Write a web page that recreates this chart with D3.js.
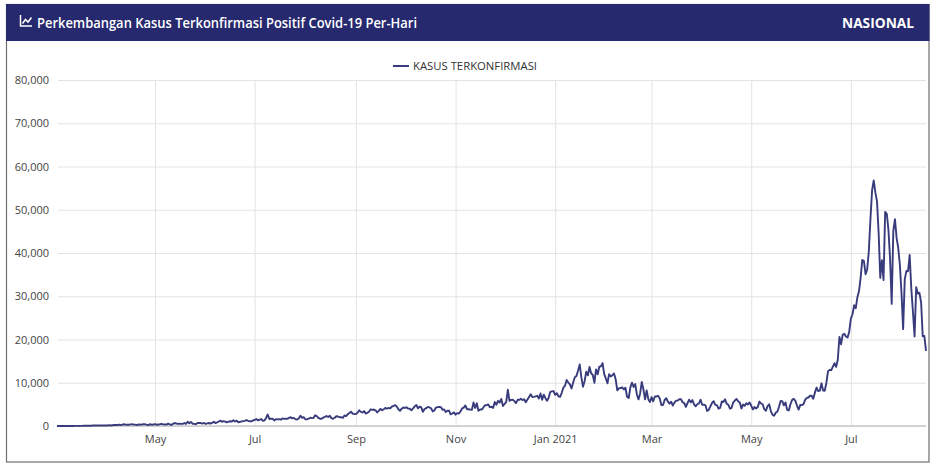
<!DOCTYPE html>
<html>
<head>
<meta charset="utf-8">
<script src="https://cdn.jsdelivr.net/npm/d3@7/dist/d3.min.js"></script>
<style>
  html, body { margin: 0; padding: 0; background: #fff; }
  svg { display: block; }
</style>
</head>
<body>
<svg id="chart" width="934" height="472"></svg>
<script>
// ---- DATA ----
const titleText = "Perkembangan Kasus Terkonfirmasi Positif Covid-19 Per-Hari";
const regionText = "NASIONAL";
const seriesName = "KASUS TERKONFIRMASI";
const startDate = "2020-03-02";
const endDate = "2021-08-16";

// daily new confirmed cases, 2 Mar 2020 .. 31 Dec 2020 (one line per month)
const cases2020 = [
  2,0,0,2,0,0,2,13,0,8,7,35,27,21,17,38,55,82,60,81,64,65,106,105,103,153,109,130,129,114,
  149,113,196,106,181,218,247,218,337,219,330,399,316,282,297,380,407,325,327,185,375,283,357,436,396,275,214,415,260,347,
  433,292,349,395,484,367,338,336,533,387,233,484,689,568,490,529,496,486,693,486,973,634,949,526,479,415,686,687,678,557,700,
  467,609,684,585,703,993,672,847,1043,1241,979,1111,1014,857,1017,1106,1031,1331,1041,1226,862,954,1051,1113,1178,1385,1198,1082,1082,1293,
  1385,1624,1301,1447,1607,1209,1268,1853,2657,1611,1671,1681,1282,1591,1522,1574,1462,1752,1639,1693,1655,1882,2039,1761,1868,1525,1492,1748,2381,1904,2040,
  1560,1519,1679,1922,1815,1815,2473,2277,1893,1687,1693,1942,2098,2307,2081,2345,1821,1673,1902,2266,2197,2035,2037,1877,2447,2306,2719,3003,3308,2858,2743,
  2775,3075,3622,3269,3128,3444,2880,3046,3307,3861,3737,3806,3636,3141,3507,3963,3635,3891,4168,3989,4176,4071,4465,4634,4823,4494,3874,3509,4002,4284,
  4174,4317,4007,3992,3622,4056,4538,4850,4094,4497,4294,3267,3906,4127,4411,4301,4105,3373,3602,4267,4369,4432,4369,3732,3831,3222,3520,3565,2696,2897,3143,
  2618,2973,2868,3356,4065,4262,4766,3880,3880,3779,3770,5444,4173,5272,3535,3807,3807,4265,4798,4792,4998,4360,4442,4192,5534,4917,5828,5418,6267,4617,
  5092,5533,8369,5803,6027,6089,5754,5292,6058,6033,6310,5988,6189,5489,6120,6725,7354,6689,6748,6848,6982,6347,7514,6049,7259,6440,5854,6528,7903,8002,8074
];

// daily new confirmed cases, 1 Jan 2021 .. 16 Aug 2021 (one line per month)
const cases2021 = [
  7203,7586,6877,6753,7669,8854,9321,10617,10046,9640,8692,10047,11278,11557,12818,14224,11287,9086,10365,12568,11703,13632,12191,11788,9994,13094,11948,13695,13802,14518,12001,
  10994,9883,11984,11434,11749,12156,10827,8242,8700,8776,8948,8435,8844,6765,6462,8913,10029,9039,9687,7300,6156,7533,10180,8493,6146,8232,6208,5560,
  6680,5712,6808,6825,6971,6359,4829,4852,6018,6412,5633,5158,5633,4714,5414,5875,5908,6182,6208,5494,5282,4396,5288,6085,5465,6015,5008,4560,5024,5237,6088,
  4919,4953,4790,3480,3711,4549,5325,5722,4881,4813,4021,4196,5656,5549,6177,5130,4894,4002,4209,5476,5882,6243,5720,5436,4035,4952,4656,5241,4969,5444,
  4732,3824,4369,4067,4367,5647,5233,5032,3886,3512,4608,5017,3448,2633,2385,3080,3295,4452,5797,5746,4789,5448,3719,3592,5022,6002,6297,5862,4737,3796,4843,
  4824,5046,6054,6486,6594,6993,6993,6294,7725,8892,8058,8161,9868,8189,8161,9944,12624,12990,12906,13737,14536,13668,15308,20574,18872,21095,21342,20694,20467,21807,
  24836,25830,27913,27233,29745,31189,34379,38391,38124,35094,36197,40427,47899,54517,56757,54000,51952,44721,34257,38325,33772,49509,49071,45416,38679,28228,45203,47791,43479,41168,37284,
  30738,22404,33900,35867,35764,39532,31753,26415,20709,32081,30625,30788,28598,20741,20813,17384
];

const xTickDates = ["2020-05-01","2020-07-01","2020-09-01","2020-11-01","2021-01-01","2021-03-01","2021-05-01","2021-07-01"];
const xTickLabels = ["May","Jul","Sep","Nov","Jan 2021","Mar","May","Jul"];
const yTickValues = [0,10000,20000,30000,40000,50000,60000,70000,80000];

// ---- BUILD ----
const parse = d3.utcParse("%Y-%m-%d");
const t0 = parse(startDate);
const allCases = cases2020.concat(cases2021);
const data = allCases.map((v, i) => ({ date: d3.utcDay.offset(t0, i), value: v }));

const svg = d3.select("#chart");
const font = "'Open Sans', 'Noto Sans', sans-serif";

// frame
svg.append("rect").attr("x", 6.5).attr("y", 4.5).attr("width", 922.5).attr("height", 457.5)
  .attr("fill", "#fff").attr("stroke", "#6f6f6f").attr("stroke-width", 1.2);

// header
svg.append("rect").attr("x", 6).attr("y", 4).attr("width", 923.5).attr("height", 37)
  .attr("fill", "#26296e");

// header icon (line chart glyph)
const icon = svg.append("g").attr("transform", "translate(20,15)")
  .attr("fill", "none").attr("stroke", "#fff").attr("stroke-width", 1.5);
icon.append("path").attr("d", "M0.5,0 V11 H12");
icon.append("path").attr("d", "M2.5,8.5 L5.5,4.5 L8,7 L11.5,2.5");

svg.append("text").attr("x", 37).attr("y", 27.5)
  .attr("font-family", font).attr("font-size", 14).attr("font-weight", 600)
  .attr("fill", "#fff").attr("textLength", 380).attr("lengthAdjust", "spacingAndGlyphs")
  .text(titleText);

svg.append("text").attr("x", 914).attr("y", 28).attr("text-anchor", "end")
  .attr("font-family", font).attr("font-size", 14).attr("font-weight", 700)
  .attr("fill", "#fff").attr("textLength", 72).attr("lengthAdjust", "spacingAndGlyphs")
  .text(regionText);

// scales
const x = d3.scaleUtc().domain([t0, parse(endDate)]).range([57, 926]);
const y = d3.scaleLinear().domain([0, 80000]).range([426, 80]);

// horizontal grid
svg.append("g")
  .attr("transform", "translate(58,0)")
  .call(d3.axisLeft(y).tickValues(yTickValues).tickSize(-868).tickFormat(""))
  .call(g => g.select(".domain").remove())
  .call(g => g.selectAll("line").attr("stroke", "#e3e3e3"));

// vertical grid
const xTicks = xTickDates.map(parse);
svg.append("g")
  .attr("transform", "translate(0,426)")
  .call(d3.axisBottom(x).tickValues(xTicks).tickSize(-346).tickFormat(""))
  .call(g => g.select(".domain").remove())
  .call(g => g.selectAll("line").attr("stroke", "#e3e3e3"));

// y labels
svg.append("g")
  .attr("transform", "translate(58,0)")
  .call(d3.axisLeft(y).tickValues(yTickValues).tickSize(0).tickPadding(9).tickFormat(d3.format(",")))
  .call(g => g.select(".domain").remove())
  .call(g => g.selectAll("text").attr("font-family", font).attr("font-size", 11).attr("fill", "#444"));

// x labels
svg.append("g")
  .attr("transform", "translate(0,426)")
  .call(d3.axisBottom(x).tickValues(xTicks).tickSize(0).tickPadding(9)
    .tickFormat((d, i) => xTickLabels[i]))
  .call(g => g.select(".domain").remove())
  .call(g => g.selectAll("text").attr("font-family", font).attr("font-size", 11).attr("fill", "#444"));

// baseline
svg.append("line").attr("x1", 58).attr("x2", 926).attr("y1", y(0)).attr("y2", y(0))
  .attr("stroke", "#c8c8c8").attr("stroke-width", 1.5);

// line
const line = d3.line().x(d => x(d.date)).y(d => y(d.value));
svg.append("path").datum(data)
  .attr("fill", "none").attr("stroke", "#393c7c").attr("stroke-width", 1.9)
  .attr("stroke-linejoin", "round")
  .attr("d", line);

// legend
svg.append("line").attr("x1", 393).attr("x2", 409).attr("y1", 66).attr("y2", 66)
  .attr("stroke", "#393c7c").attr("stroke-width", 2);
svg.append("text").attr("x", 413).attr("y", 70)
  .attr("font-family", font).attr("font-size", 11).attr("fill", "#333")
  .attr("textLength", 124).attr("lengthAdjust", "spacingAndGlyphs")
  .text(seriesName);
</script>
</body>
</html>
